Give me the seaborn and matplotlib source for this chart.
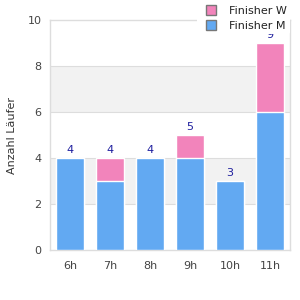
import pandas as pd
import matplotlib
matplotlib.use('Agg')
import matplotlib.pyplot as plt
from matplotlib.lines import Line2D
import seaborn as sns

# DATEN
stunden = ['6h', '7h', '8h', '9h', '10h', '11h']
finisher_m = [4, 3, 4, 4, 3, 6]
finisher_w = [0, 1, 0, 1, 0, 3]

df = pd.DataFrame({'Stunde': stunden, 'M': finisher_m, 'W': finisher_w})
df['Gesamt'] = df['M'] + df['W']

sns.set_style('white')
plt.rcParams['font.family'] = ['DejaVu Sans']

farbe_m = '#62a9f2'
farbe_w = '#f284bb'

fig = plt.figure(figsize=(3, 3), dpi=100)
ax = fig.add_axes([50 / 300, 50 / 300, 240 / 300, 230 / 300])

# HINTERGRUNDSTREIFEN
for y0 in [2, 6]:
    ax.axhspan(y0, y0 + 2, color='#f2f2f2', zorder=0, lw=0)
for y in [2, 4, 6, 8]:
    ax.axhline(y, color='#dddddd', lw=0.8, zorder=0.5)

# GESTAPELTE BALKEN (GESAMT = W OBEN, M DARUNTER)
sns.barplot(data=df, x='Stunde', y='Gesamt', color=farbe_w, width=0.72,
            saturation=1, ax=ax, zorder=2)
sns.barplot(data=df, x='Stunde', y='M', color=farbe_m, width=0.72,
            saturation=1, ax=ax, zorder=3)

for i, tot in enumerate(df['Gesamt']):
    ax.text(i, tot + 0.15, str(tot), ha='center', va='bottom',
            color='#1f1f9e', fontsize=8, zorder=4)

ax.set_ylim(0, 10)
ax.set_yticks([0, 2, 4, 6, 8, 10])
ax.set_xlabel('')
ax.set_ylabel('Anzahl Läufer', fontsize=8, color='#333333', labelpad=8)
ax.tick_params(axis='both', length=0, labelsize=8, colors='#444444')
ax.tick_params(axis='x', pad=8)
ax.tick_params(axis='y', pad=6)
for s in ax.spines.values():
    s.set_color('#dddddd')
    s.set_linewidth(1)

handles = [
    Line2D([], [], marker='s', linestyle='', markersize=7,
           markerfacecolor=farbe_w, markeredgecolor='#777777'),
    Line2D([], [], marker='s', linestyle='', markersize=7,
           markerfacecolor=farbe_m, markeredgecolor='#777777'),
]
leg = fig.legend(handles, ['Finisher W', 'Finisher M'], loc='upper right',
                 bbox_to_anchor=(0.985, 1.01), fontsize=8, frameon=True,
                 facecolor='white', edgecolor='none', framealpha=1,
                 handletextpad=0.6, labelspacing=0.45, borderpad=0.3)
leg.set_zorder(10)
for t in leg.get_texts():
    t.set_color('#222222')

plt.savefig('out.png', dpi=100)
